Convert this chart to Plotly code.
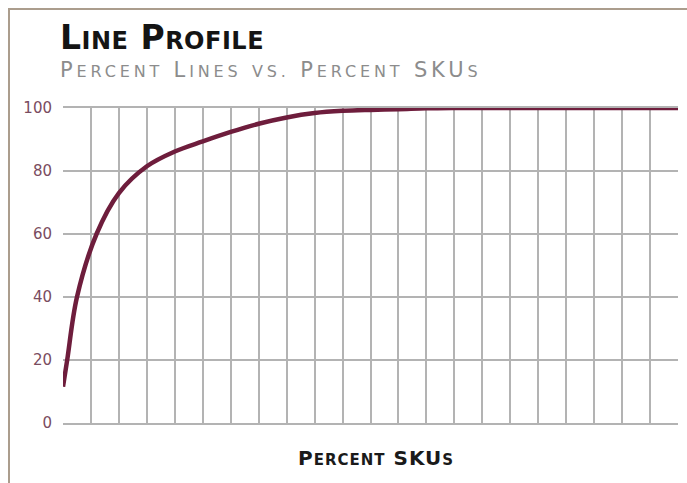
import plotly.graph_objects as go

# Data (x in grid units of the SKU axis, 22 divisions; y = percent lines)
sku_pos = [0, 0.15, 0.5, 1.2, 2.0, 3.0, 4.0, 5.0, 6.0, 7.0, 8.0, 9.0, 10.0, 11.0, 12.0, 13.0, 14.0, 22.0]
pct_lines = [11.5, 20, 40, 60, 73, 81.5, 86.2, 89.4, 92.4, 95, 97, 98.4, 99.1, 99.4, 99.6, 99.9, 100, 100]
y_ticks = [0, 20, 40, 60, 80, 100]

W, H = 687, 483
ML, MR, MT, MB = 63, 9, 108, 60
PW = W - ML - MR
PH = H - MT - MB

def px(x):
    return (x - ML) / PW

def py(y):
    return (H - MB - y) / PH

fig = go.Figure()
fig.add_trace(go.Scatter(
    x=sku_pos, y=pct_lines, mode="lines",
    line=dict(color="#6e1d3c", width=4.5, shape="spline", smoothing=1.0),
    hoverinfo="skip", showlegend=False,
))

fig.update_layout(
    width=W, height=H,
    margin=dict(l=ML, r=MR, t=MT, b=MB, pad=0),
    paper_bgcolor="white", plot_bgcolor="white",
    xaxis=dict(range=[0, 22], dtick=1, tick0=0, showticklabels=False, ticks="",
               showgrid=True, gridcolor="#b3b3b3", gridwidth=2,
               zeroline=False, showline=True, linecolor="#b3b3b3", linewidth=2,
               mirror=True, fixedrange=True),
    yaxis=dict(range=[0, 100], tickvals=y_ticks, ticks="",
               showgrid=True, gridcolor="#b3b3b3", gridwidth=2,
               zeroline=False, showline=False,
               tickfont=dict(family="DejaVu Sans", size=15, color="#7a4c60"),
               ticklabelstandoff=10, fixedrange=True),
    font=dict(family="DejaVu Sans"),
)

def sc(s, size):
    return "<span style='font-size:%dpx'>%s</span>" % (size, s)

title = "<span style='letter-spacing:0.5px'>L" + sc("INE", 24) + " P" + sc("ROFILE", 24) + "</span>"
subtitle = ("<span style='letter-spacing:3.85px'>P" + sc("ERCENT", 16) + " L" + sc("INES", 16) + " "
            + sc("VS.", 16) + " P" + sc("ERCENT", 16) + " SKU" + sc("S", 16) + "</span>")
xtitle = "<span style='letter-spacing:1px'>P" + sc("ERCENT", 15) + " SKU" + sc("S", 15) + "</span>"

fig.add_annotation(text="<b>" + title + "</b>", xref="paper", yref="paper",
                   x=px(58), y=py(37.5), xanchor="left", yanchor="middle", showarrow=False,
                   font=dict(family="DejaVu Sans", size=33, color="#141414"))
fig.add_annotation(text=subtitle, xref="paper", yref="paper",
                   x=px(58), y=py(70), xanchor="left", yanchor="middle", showarrow=False,
                   font=dict(family="DejaVu Sans", size=21, color="#8c8c8c"))
fig.add_annotation(text="<b>" + xtitle + "</b>", xref="paper", yref="paper",
                   x=px(376), y=py(458), xanchor="center", yanchor="middle", showarrow=False,
                   font=dict(family="DejaVu Sans", size=20, color="#1a1a1a"))

# Outer frame lines (left and top)
fig.add_shape(type="line", xref="paper", yref="paper", x0=px(9), x1=px(9), y0=py(8), y1=py(H),
              line=dict(color="#ab9d8d", width=2))
fig.add_shape(type="line", xref="paper", yref="paper", x0=px(8), x1=px(W), y0=py(9), y1=py(9),
              line=dict(color="#ab9d8d", width=2))

fig.write_html("out.html")
